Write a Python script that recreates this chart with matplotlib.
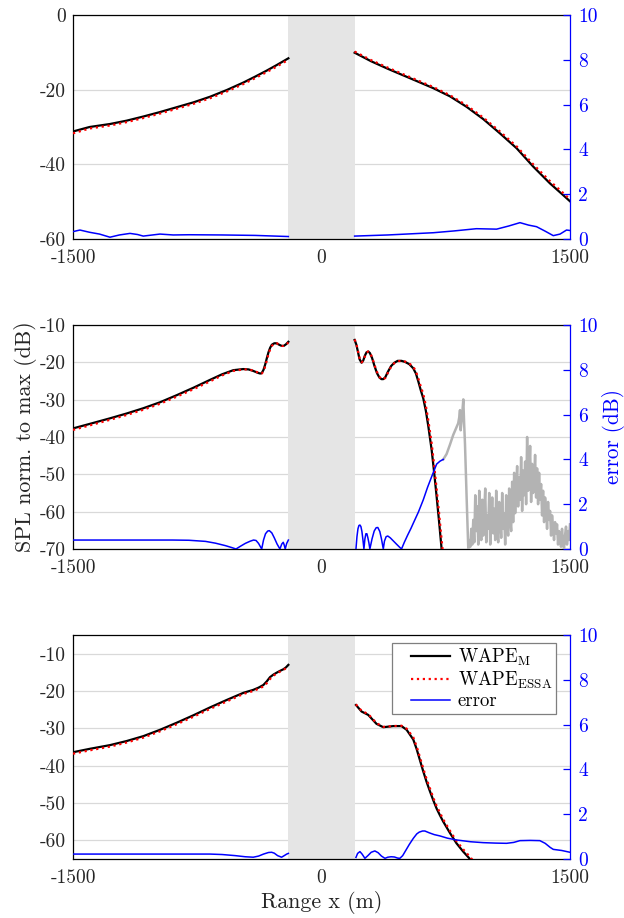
import numpy as np
import matplotlib
matplotlib.use('Agg')
import matplotlib.pyplot as plt
from matplotlib.lines import Line2D
from matplotlib.legend_handler import HandlerLine2D

plt.rcParams['font.family'] = 'serif'
plt.rcParams['font.serif'] = ['cmr10']
plt.rcParams['mathtext.fontset'] = 'cm'
plt.rcParams['axes.unicode_minus'] = False

# ---- panel 1 ----
p1_xl = [-1500, -1400, -1277, -1176, -1076, -975, -874, -773, -673, -572, -472, -400, -331, -270, -200]
p1_ml = [-31.2, -30.0, -29.2, -28.3, -27.2, -26.0, -24.7, -23.4, -21.9, -20.1, -18.1, -16.5, -14.9, -13.4, -11.6]
p1_el = [-31.7, -30.4, -29.6, -28.7, -27.6, -26.4, -25.1, -23.8, -22.3, -20.5, -18.5, -16.9, -15.3, -13.8, -12.0]
p1_xr = [200, 300, 400, 474, 575, 675, 776, 876, 977, 1077, 1178, 1278, 1379, 1450, 1500]
p1_mr = [-10.1, -12.4, -14.4, -15.8, -17.7, -19.6, -21.8, -24.6, -27.9, -31.7, -35.7, -40.6, -45.1, -47.9, -49.9]
p1_er = [-9.8, -12.1, -14.1, -15.5, -17.4, -19.3, -21.5, -24.2, -27.5, -31.2, -35.2, -40.0, -44.5, -47.3, -49.4]
p1_err_xl = [-1500, -1458, -1400, -1340, -1277, -1220, -1156, -1110, -1076, -1020, -975, -895, -800, -600, -400, -200]
p1_err_l = [0.33, 0.40, 0.30, 0.22, 0.08, 0.18, 0.25, 0.20, 0.13, 0.18, 0.22, 0.18, 0.19, 0.18, 0.16, 0.11]
p1_err_xr = [200, 400, 675, 800, 935, 1057, 1130, 1198, 1250, 1298, 1350, 1399, 1440, 1479, 1500]
p1_err_r = [0.13, 0.18, 0.28, 0.36, 0.46, 0.44, 0.58, 0.73, 0.62, 0.55, 0.35, 0.15, 0.22, 0.40, 0.38]

# ---- panel 2 ----
p2_xl = [-1500, -1400, -1277, -1176, -1076, -975, -874, -773, -673, -600, -532, -472, -440, -412, -385,
         -370, -361, -350, -340, -330, -320, -310, -300, -285, -271, -255, -240, -228, -215, -200]
p2_ml = [-37.7, -36.5, -35.0, -33.7, -32.3, -30.7, -28.8, -26.8, -24.7, -23.2, -22.1, -21.8, -21.9, -22.3, -22.8,
         -23.0, -22.9, -22.0, -20.6, -18.9, -17.3, -16.1, -15.3, -14.9, -14.9, -15.3, -15.6, -15.6, -15.2, -14.5]
p2_el = [-38.1, -36.9, -35.4, -34.1, -32.7, -31.1, -29.2, -27.2, -25.1, -23.5, -22.3, -21.9, -21.9, -22.2, -22.7,
         -23.0, -23.0, -22.4, -21.1, -19.5, -17.8, -16.5, -15.6, -15.0, -14.9, -15.2, -15.6, -15.6, -15.3, -14.7]
p2_xr = [200, 210, 220, 230, 242, 252, 262, 272, 282, 292, 305, 320, 335, 350, 362, 373, 385, 400, 420,
         440, 460, 483, 505, 530, 554, 570, 585, 600, 614, 630, 645, 665, 680, 695, 710, 725, 740]
p2_mr = [-14.0, -15.2, -17.2, -19.2, -20.1, -19.5, -18.2, -17.3, -17.1, -17.5, -18.8, -21.0, -22.9, -24.1, -24.5,
         -24.5, -24.0, -22.6, -21.0, -20.1, -19.6, -19.6, -19.9, -20.5, -21.6, -23.0, -25.2, -27.6, -29.6, -33.0,
         -37.2, -43.5, -49.5, -56.0, -62.8, -70.0, -77.0]
p2_er = [-13.9, -15.0, -16.9, -18.9, -20.0, -19.6, -18.4, -17.4, -17.1, -17.4, -18.6, -20.7, -22.6, -23.9, -24.5,
         -24.5, -24.2, -22.9, -21.2, -20.2, -19.7, -19.6, -19.8, -20.3, -21.2, -22.4, -24.4, -26.6, -28.4, -31.6,
         -35.6, -41.7, -47.5, -53.9, -60.5, -67.5, -74.0]
p2_err_xl = [-1500, -1100, -900, -800, -700, -640, -580, -540, -516, -490, -460, -430, -410, -395, -380,
             -361, -350, -338, -325, -315, -300, -285, -268, -251, -240, -231, -226, -219, -210, -200]
p2_err_l = [0.40, 0.40, 0.40, 0.39, 0.34, 0.26, 0.15, 0.06, 0.0, 0.12, 0.25, 0.35, 0.40, 0.38, 0.25,
            0.0, 0.40, 0.68, 0.80, 0.82, 0.72, 0.50, 0.22, 0.0, 0.22, 0.30, 0.20, 0.0, 0.25, 0.40]
p2_err_xr = [208, 214, 220, 226, 232, 238, 244, 250, 256, 262, 268, 274, 280, 286, 292, 305, 318, 330,
             340, 352, 362, 373, 380, 390, 400, 415, 435, 455, 470, 483, 500, 520, 540, 554, 585, 614,
             640, 665, 695, 715, 735]
p2_err_r = [0.0, 0.55, 0.90, 1.05, 1.07, 1.0, 0.78, 0.42, 0.0, 0.45, 0.68, 0.68, 0.50, 0.28, 0.0, 0.45, 0.80,
            0.95, 0.96, 0.78, 0.45, 0.0, 0.35, 0.55, 0.58, 0.50, 0.35, 0.20, 0.09, 0.0, 0.30, 0.62, 0.92,
            1.15, 1.65, 2.19, 2.75, 3.23, 3.79, 3.92, 4.0]
# error beyond the valid region (grey)
p2_bad_x = [735, 755, 775, 795, 810, 825, 832, 836, 840, 848, 856, 861, 866, 876, 886]
p2_bad = [4.0, 4.24, 4.65, 5.09, 5.35, 5.61, 5.9, 6.2, 5.3, 5.9, 6.68, 5.6, 4.72, 2.3, 0.0]
p2_noise = [0.0, 0.4, 0.1, 0.9, 0.2, 1.3,
            0.3, 2.4, 0.8, 1.9, 0.2, 2.6, 1.1, 0.4, 2.2, 0.6, 1.7, 2.7, 0.3, 1.5, 0.9, 2.5, 0.2, 1.2,
            2.3, 0.7, 1.8, 0.4, 2.6, 1.0, 0.3, 2.1, 1.4, 0.5, 2.5, 0.9, 1.6, 0.2, 2.4, 1.1, 0.6, 2.7,
            1.3, 0.8, 3.0, 1.2,
            3.4, 1.6, 2.8, 3.7, 1.9, 3.2, 2.2, 4.1, 1.7, 3.5, 2.4, 3.9, 2.0, 5.0, 2.6, 3.3, 4.6, 2.1,
            3.8, 2.5, 3.1, 4.2, 2.3, 3.6, 2.0, 3.4, 2.2,
            2.9, 1.5, 2.6, 1.2, 2.3, 1.8, 0.9, 2.1, 1.3, 1.7, 0.6, 1.5, 1.0, 0.4, 1.2, 0.7, 1.1, 0.2,
            0.8, 0.5, 0.1, 0.9, 0.3, 0.0, 0.6, 1.0, 0.2, 0.8, 0.4, 1.1]
p2_noise_x = np.linspace(886, 1500, len(p2_noise))

# ---- panel 3 ----
p3_xl = [-1500, -1400, -1277, -1176, -1076, -975, -874, -773, -673, -572, -472, -412, -380, -351,
         -330, -311, -290, -271, -250, -231, -215, -200]
p3_ml = [-36.4, -35.5, -34.5, -33.4, -32.1, -30.4, -28.5, -26.5, -24.4, -22.4, -20.5, -19.7, -19.1, -18.4,
         -17.4, -16.3, -15.6, -15.1, -14.6, -14.2, -13.7, -13.0]
p3_el = [-36.8, -35.9, -34.9, -33.8, -32.5, -30.8, -28.9, -26.9, -24.8, -22.8, -20.8, -20.0, -19.4, -18.8,
         -17.9, -16.8, -15.9, -15.3, -14.8, -14.4, -13.9, -13.3]
p3_xr = [208, 242, 282, 332, 373, 433, 483, 514, 554, 574, 594, 614, 634, 654, 675, 695, 715, 735, 775,
         815, 855, 896, 920]
p3_mr = [-23.75, -25.5, -26.4, -28.8, -29.7, -29.4, -29.4, -30.4, -33.0, -35.5, -38.5, -41.5, -44.3, -46.8,
         -49.3, -51.5, -53.3, -55.0, -58.0, -60.8, -63.0, -65.0, -66.3]
p3_er = [-23.6, -25.3, -26.2, -28.6, -29.6, -29.4, -29.3, -30.1, -32.4, -34.8, -37.7, -40.7, -43.5, -46.0,
         -48.6, -50.8, -52.6, -54.4, -57.4, -60.2, -62.4, -64.4, -65.7]
p3_err_xl = [-1500, -1200, -900, -673, -600, -520, -460, -412, -380, -350, -320, -301, -285, -265,
             -241, -225, -210, -200]
p3_err_l = [0.22, 0.22, 0.22, 0.22, 0.20, 0.15, 0.10, 0.08, 0.13, 0.22, 0.29, 0.30, 0.26, 0.15,
            0.08, 0.15, 0.22, 0.25]
p3_err_xr = [208, 218, 232, 245, 262, 280, 300, 322, 342, 362, 383, 400, 420, 440, 460, 473, 490, 510,
             530, 554, 575, 590, 610, 624, 650, 680, 715, 760, 815, 900, 976, 1050, 1117, 1160, 1198,
             1260, 1318, 1350, 1380, 1399, 1450, 1500]
p3_err_r = [0.07, 0.25, 0.33, 0.22, 0.03, 0.15, 0.30, 0.36, 0.28, 0.13, 0.03, 0.08, 0.10, 0.09, 0.04,
            0.03, 0.15, 0.40, 0.65, 0.92, 1.12, 1.20, 1.25, 1.25, 1.17, 1.09, 1.03, 0.93, 0.85, 0.77,
            0.73, 0.71, 0.70, 0.74, 0.82, 0.83, 0.82, 0.70, 0.52, 0.43, 0.38, 0.30]

YLIMS = [(-60, 0), (-70, -10), (-65, -5)]
YTICKS = [[-60, -40, -20, 0], [-70, -60, -50, -40, -30, -20, -10], [-60, -50, -40, -30, -20, -10]]
XTICKS = [-1500, 0, 1500]
ERR_TICKS = [0, 2, 4, 6, 8, 10]

panels = [
    (p1_xl, p1_ml, p1_el, p1_xr, p1_mr, p1_er, p1_err_xl, p1_err_l, p1_err_xr, p1_err_r),
    (p2_xl, p2_ml, p2_el, p2_xr, p2_mr, p2_er, p2_err_xl, p2_err_l, p2_err_xr, p2_err_r),
    (p3_xl, p3_ml, p3_el, p3_xr, p3_mr, p3_er, p3_err_xl, p3_err_l, p3_err_xr, p3_err_r),
]

fig = plt.figure(figsize=(6.24, 9.18), dpi=100)
W, H = 624., 918.
tops = [15, 325, 635]
txtc = '#262626'
fs = 14

for i, pd in enumerate(panels):
    xl, ml, el, xr, mr, er, exl, eel, exr, eer = pd
    ax = fig.add_axes([73 / W, (H - tops[i] - 224) / H, 497 / W, 224 / H])
    ax2 = ax.twinx()

    ax.axvspan(-200, 200, color='#e5e5e5', lw=0, zorder=1)
    ax.plot(xl, ml, '-', color='k', lw=1.6, zorder=3)
    ax.plot(xl, el, ':', color='r', lw=1.6, zorder=4)
    h1, = ax.plot(xr, mr, '-', color='k', lw=1.6, zorder=3)
    h2, = ax.plot(xr, er, ':', color='r', lw=1.6, zorder=4)

    if i == 1:
        ax2.plot(p2_bad_x, p2_bad, '-', color='#b3b3b3', lw=1.8)
        ax2.plot(p2_noise_x, p2_noise, '-', color='#b3b3b3', lw=1.8)
    ax2.plot(exl, eel, '-', color='b', lw=1.1)
    h3, = ax2.plot(exr, eer, '-', color='b', lw=1.1)

    ax.set_xlim(-1500, 1500)
    ax.set_ylim(*YLIMS[i])
    ax.set_yticks(YTICKS[i])
    ax.set_xticks(XTICKS)
    ax.set_axisbelow(True)
    ax.yaxis.grid(True, color='#d9d9d9', lw=0.9)
    ax.tick_params(axis='both', length=0, colors=txtc, labelsize=fs)
    ax.tick_params(axis='x', pad=7)
    ax.tick_params(axis='y', pad=5)
    ax.spines['right'].set_visible(False)
    for s in ['left', 'top', 'bottom']:
        ax.spines[s].set_color('k')
        ax.spines[s].set_linewidth(0.9)

    ax2.set_ylim(0, 10)
    ax2.set_yticks(ERR_TICKS)
    ax2.tick_params(axis='y', direction='in', length=5, width=0.9, colors='b', labelsize=fs, pad=6)
    ax2.spines['right'].set_color('b')
    ax2.spines['right'].set_linewidth(0.9)
    ax2.spines['left'].set_visible(False)
    ax2.spines['top'].set_visible(False)
    ax2.spines['bottom'].set_visible(False)

    if i == 1:
        ax.set_ylabel('SPL norm. to max (dB)', fontsize=15.8, color=txtc, labelpad=2)
        ax2.set_ylabel('error (dB)', fontsize=15.2, color='b', labelpad=3)
    if i == 2:
        ax.set_xlabel('Range x (m)', fontsize=15.8, color=txtc, labelpad=3)
        leg = ax2.legend([h1, h2, h3], [r'WAPE$_\mathrm{M}$', r'WAPE$_\mathrm{ESSA}$', 'error'],
                         loc='upper right', bbox_to_anchor=(0.972, 0.964), borderaxespad=0,
                         fancybox=False, framealpha=1, edgecolor='#7f7f7f', fontsize=13.5,
                         labelspacing=0.08, handlelength=2.9, handletextpad=0.4,
                         borderpad=0.2, handler_map={Line2D: HandlerLine2D(xpad=0.8)})
        leg.get_frame().set_linewidth(0.9)

plt.savefig('out.png', dpi=100)
